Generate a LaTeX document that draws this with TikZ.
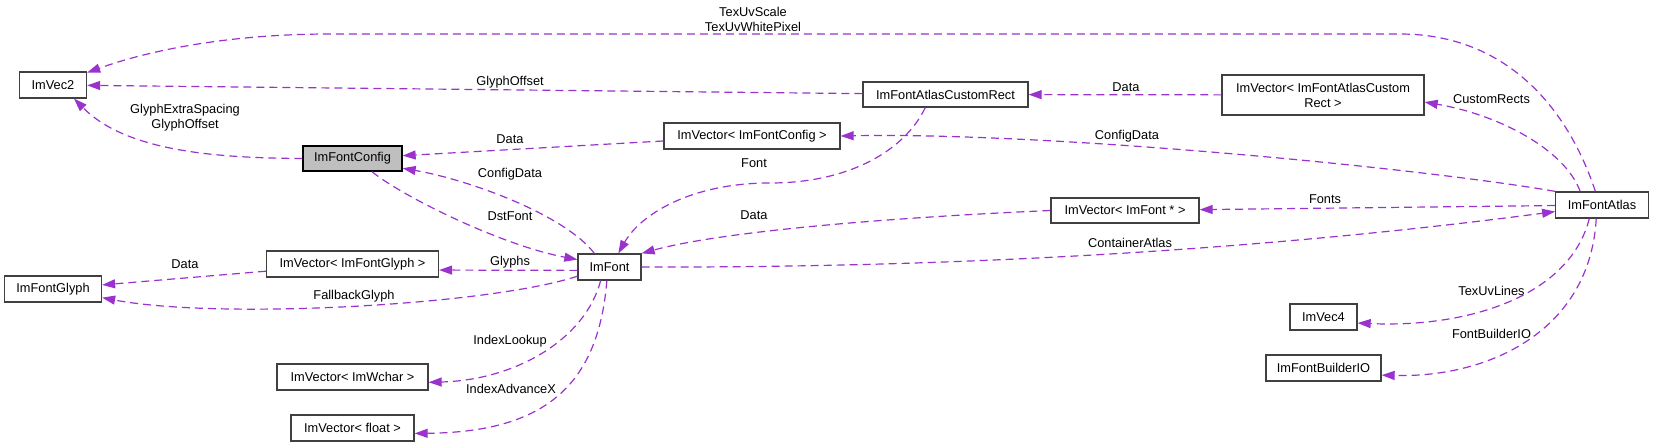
\documentclass[tikz,border=0pt]{standalone}
\usepackage{fontspec}
\setmainfont{Liberation Sans}
\usetikzlibrary{arrows.meta}
\definecolor{relpurple}{RGB}{154, 50, 205}
\definecolor{boxgray}{RGB}{191, 191, 191}
\definecolor{boxline}{RGB}{64, 64, 64}

\begin{document}
\begin{tikzpicture}[x=1pt, y=-1pt,
    cls/.style={draw=boxline, line width=1.3pt, fill=white, minimum height=26pt, inner sep=0pt, font=\fontsize{12.8}{15}\selectfont},
    rel/.style={relpurple, line width=1.2pt, dash pattern=on 8pt off 5pt, -{Triangle[length=13pt, width=9pt]}},
    lbl/.style={font=\fontsize{12.8}{15}\selectfont, align=center, inner sep=0pt}]
\useasboundingbox (0,0) rectangle (1653,447);

% classes
\node[cls, minimum width=67pt] (vec2) at (53,85) {ImVec2};
\node[cls, minimum width=99pt, minimum height=25pt, fill=boxgray, draw=black] (cfg) at (352.5,158.5) {ImFontConfig};
\node[cls, minimum width=165pt, minimum height=25pt] (crect) at (945.5,94.5) {ImFontAtlasCustomRect};
\node[cls, minimum width=176pt] (vcfg) at (752,136) {ImVector< ImFontConfig >};
\node[cls, minimum width=202pt, minimum height=40pt, align=center] (vcrect) at (1323,95) {ImVector< ImFontAtlasCustom\\Rect >};
\node[cls, minimum width=92.5pt] (atlas) at (1602,205) {ImFontAtlas};
\node[cls, minimum width=148pt, minimum height=25pt] (vfont) at (1125,210.5) {ImVector< ImFont * >};
\node[cls, minimum width=63pt] (font) at (609.5,267) {ImFont};
\node[cls, minimum width=97pt] (glyph) at (53,289) {ImFontGlyph};
\node[cls, minimum width=172pt] (vglyph) at (352.5,264) {ImVector< ImFontGlyph >};
\node[cls, minimum width=151pt] (vwchar) at (352.5,377) {ImVector< ImWchar >};
\node[cls, minimum width=123pt] (vfloat) at (352.5,428) {ImVector< float >};
\node[cls, minimum width=67pt] (vec4) at (1323.5,317) {ImVec4};
\node[cls, minimum width=115pt] (bio) at (1323.5,368) {ImFontBuilderIO};

% member labels
\node[lbl] (lTexUv) at (753,19.5) {TexUvScale\\TexUvWhitePixel};
\node[lbl] (lRectOffset) at (510,82) {GlyphOffset};
\node[lbl] (lCfgSpacing) at (185,117.5) {GlyphExtraSpacing\\GlyphOffset};
\node[lbl] (lCfgData) at (510,139) {Data};
\node[lbl] (lFontCfg) at (510,174) {ConfigData};
\node[lbl] (lFont) at (754,163) {Font};
\node[lbl] (lDstFont) at (510,216) {DstFont};
\node[lbl] (lFontsData) at (754,215) {Data};
\node[lbl] (lRectData) at (1126,87) {Data};
\node[lbl] (lRects) at (1491.5,99) {CustomRects};
\node[lbl] (lAtlasCfg) at (1127,136) {ConfigData};
\node[lbl] (lFonts) at (1325,199) {Fonts};
\node[lbl] (lContainer) at (1130,243) {ContainerAtlas};
\node[lbl] (lGlyphs) at (510,262) {Glyphs};
\node[lbl] (lGlyphData) at (185,264) {Data};
\node[lbl] (lFallback) at (354,296) {FallbackGlyph};
\node[lbl] (lLookup) at (510,341) {IndexLookup};
\node[lbl] (lAdvance) at (511,389) {IndexAdvanceX};
\node[lbl] (lLines) at (1491.5,291) {TexUvLines};
\node[lbl] (lBuilder) at (1491.5,334) {FontBuilderIO};

% relations
\draw[rel] (atlas.116) .. controls (1565,100) and (1500,34) .. (1400,34) -- (330,34) .. controls (230,34) and (150,50) .. (vec2.20);
\draw[rel] (crect) -- (vec2);
\draw[rel] (cfg.west) .. controls (210,158) and (125,150) .. (vec2.-33);
\draw[rel] (vcfg) -- (cfg);
\draw[rel] (font.138) .. controls (565,215) and (470,180) .. (cfg.-11);
\draw[rel] (cfg.-34) .. controls (400,195) and (500,245) .. (font.167);
\draw[rel] (crect.213) .. controls (905,150) and (850,183) .. (770,183) .. controls (690,183) and (640,215) .. (font.57);
\draw[rel] (vfont.west) .. controls (880,218) and (720,232) .. (font.north east);
\draw[rel] (vcrect) -- (crect);
\draw[rel] (atlas.148) .. controls (1565,150) and (1500,115) .. (vcrect.-4);
\draw[rel] (atlas.north west) .. controls (1420,168) and (1050,132) .. (vcfg.east);
\draw[rel] (atlas) -- (vfont);
\draw[rel] (font.east) .. controls (1000,268) and (1300,245) .. (atlas.188);
\draw[rel] (font.186) -- (vglyph.-4);
\draw[rel] (vglyph) -- (glyph);
\draw[rel] (font.196) .. controls (490,305) and (220,320) .. (glyph.-10);
\draw[rel] (font.237) .. controls (585,340) and (515,380) .. (vwchar.-4);
\draw[rel] (font.259) .. controls (598,390) and (540,432) .. (vfloat.-5);
\draw[rel] (atlas.227) .. controls (1570,295) and (1470,328) .. (vec4.-10);
\draw[rel] (atlas.247) .. controls (1590,330) and (1490,378) .. (bio.-7);
\end{tikzpicture}
\end{document}
